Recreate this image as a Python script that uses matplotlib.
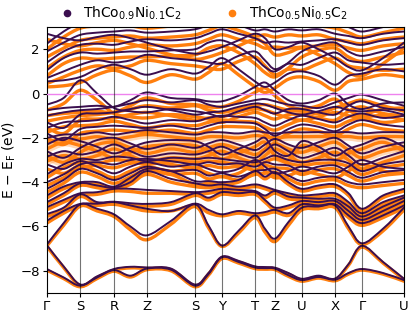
import matplotlib
matplotlib.use("Agg")
import matplotlib.pyplot as plt
from matplotlib.lines import Line2D
from matplotlib.path import Path
from matplotlib.patches import PathPatch

# high-symmetry path
KLABELS = ["Γ", "S", "R", "Z", "S", "Y", "T", "Z", "U", "X", "Γ", "U"]
KNODES = [0.0, 0.469, 0.939, 1.401, 2.073, 2.451, 2.913, 3.193, 3.571, 4.034, 4.412, 5.0]

# band energies (eV) read at each node and segment midpoint (23 points)
# ThCo0.9Ni0.1C2
ni01_deep = [
    [-7.92, -8.3, -8.67, -8.3, -7.97, -8.22, -7.9, -7.95, -8.67, -8.15, -7.39, -7.6, -7.85, -7.88, -7.9, -8.2, -8.42, -8.28, -8.4, -8.1, -7.92, -8.1, -8.42],
    [-6.84, -7.8, -8.62, -8.25, -7.92, -7.82, -7.85, -7.9, -8.62, -8.1, -7.36, -7.55, -7.8, -7.83, -7.86, -8.1, -8.36, -8.22, -8.35, -7.7, -6.87, -7.6, -8.36],
    [-6.82, -5.85, -5.0, -5.2, -5.45, -6.0, -6.4, -5.75, -5.0, -5.95, -6.86, -6.2, -5.5, -6.1, -6.55, -5.8, -5.15, -5.1, -5.05, -6.0, -6.76, -6.1, -5.15],
]
ni01_lower = [
    [-5.74, -5.3, -4.98, -4.97, -4.9, -5.05, -5.2, -5.3, -4.97, -5.25, -5.45, -5.3, -5.4, -5.35, -5.25, -5.4, -5.0, -5.05, -5.0, -5.5, -5.85, -5.5, -5.05],
    [-5.44, -5.15, -4.55, -4.9, -4.88, -4.95, -4.98, -4.9, -4.5, -4.7, -4.45, -4.5, -4.45, -4.8, -5.15, -5.05, -4.85, -4.9, -4.85, -5.3, -5.7, -5.3, -4.85],
    [-5.13, -4.8, -4.5, -4.45, -4.3, -4.3, -4.35, -4.4, -4.45, -4.4, -4.3, -4.35, -4.4, -4.6, -4.4, -4.65, -4.7, -4.75, -4.75, -5.1, -5.55, -5.1, -4.7],
    [-4.9, -4.5, -4.05, -4.15, -4.25, -4.0, -3.5, -3.85, -4.05, -4.15, -4.1, -4.2, -4.1, -4.2, -4.35, -4.5, -4.6, -4.55, -4.5, -4.9, -5.4, -4.9, -4.6],
    [-4.6, -4.2, -4.0, -4.0, -4.2, -3.8, -3.4, -3.5, -3.95, -3.95, -4.0, -3.9, -3.5, -3.75, -3.55, -4.0, -4.3, -4.15, -4.1, -4.5, -5.2, -4.6, -4.3],
]
ni01_valence = [
    [-4.3, -3.9, -3.4, -3.6, -3.9, -3.6, -3.3, -3.5, -3.45, -3.7, -3.6, -3.75, -3.5, -3.45, -3.4, -3.7, -3.95, -3.8, -3.75, -4.0, -4.1, -4.0, -3.9],
    [-4.0, -3.65, -3.2, -3.1, -3.2, -3.0, -2.95, -3.05, -3.2, -3.1, -3.2, -3.15, -3.3, -3.1, -3.2, -3.25, -3.5, -3.3, -3.25, -3.55, -3.8, -3.55, -3.45],
    [-3.65, -3.2, -2.95, -3.0, -2.85, -2.9, -3.05, -2.9, -2.95, -2.9, -2.95, -3.05, -3.1, -2.95, -2.8, -3.0, -3.1, -3.0, -3.0, -3.15, -3.5, -3.2, -3.05],
    [-3.2, -3.4, -3.05, -3.3, -3.6, -3.3, -3.1, -3.3, -3.2, -3.4, -3.55, -3.4, -3.0, -3.3, -3.6, -3.5, -3.3, -3.45, -3.6, -3.3, -3.0, -3.3, -3.4],
    [-2.85, -2.6, -2.75, -2.6, -2.3, -2.6, -2.85, -2.7, -2.75, -2.6, -2.4, -2.7, -2.9, -2.6, -2.3, -2.6, -2.9, -2.7, -2.45, -2.8, -3.2, -2.9, -2.6],
    [-2.6, -2.9, -2.45, -2.1, -2.0, -2.25, -2.5, -2.3, -2.45, -2.25, -2.1, -2.3, -2.55, -2.3, -2.05, -2.3, -2.45, -2.2, -2.0, -2.35, -2.7, -2.4, -2.2],
    [-2.3, -2.0, -2.15, -2.4, -2.7, -2.45, -2.2, -2.1, -2.15, -2.4, -2.75, -2.5, -2.2, -2.0, -2.6, -2.8, -2.15, -2.4, -2.8, -2.5, -2.3, -2.0, -2.4],
]
ni01_near = [
    [-2.0, -1.85, -1.85, -1.75, -1.85, -1.75, -1.65, -1.75, -1.85, -1.75, -1.75, -1.8, -1.7, -1.75, -1.8, -1.75, -1.75, -1.74, -1.75, -1.74, -1.8, -1.74, -1.75],
    [-1.8, -2.1, -1.6, -1.5, -1.45, -1.5, -1.55, -1.45, -1.6, -1.45, -1.3, -1.3, -1.35, -1.6, -1.9, -1.6, -1.4, -1.5, -1.7, -1.4, -1.2, -1.4, -1.5],
    [-1.55, -1.3, -1.25, -1.2, -1.05, -1.2, -1.35, -1.2, -1.25, -1.1, -1.0, -1.05, -1.1, -1.3, -1.45, -1.2, -1.0, -1.15, -1.3, -1.05, -0.9, -1.1, -1.0],
    [-1.3, -1.55, -0.95, -0.9, -0.85, -0.7, -0.6, -0.75, -0.95, -0.85, -0.8, -0.6, -0.45, -0.5, -0.65, -0.85, -0.95, -0.8, -0.6, -0.75, -0.8, -0.75, -0.95],
    [-1.0, -0.85, -0.75, -0.7, -0.6, -0.45, -0.3, -0.4, -0.3, -0.5, -0.6, -0.45, -0.3, -0.25, -0.35, -0.5, -0.55, -0.65, -0.4, -0.2, -0.05, -0.3, -0.55],
    [-0.75, -0.65, -0.6, -0.55, -0.6, -0.3, 0.05, -0.2, -0.25, -0.35, -0.35, -0.1, 0.3, 0.5, 0.15, -0.3, -0.45, -0.3, 0.0, -0.5, -0.7, -0.45, -0.4],
    [-0.5, -0.2, 0.6, 0.0, -0.65, -0.8, -0.85, -0.7, -0.8, -0.9, -1.05, -0.8, -0.6, -0.75, -0.9, -0.7, -0.7, -0.85, -0.95, -0.55, -0.35, -0.65, -0.75],
]
ni01_cond = [
    [0.55, 0.6, 0.75, 1.1, 1.3, 1.1, 0.85, 1.1, 0.9, 1.2, 1.6, 1.1, 0.55, 0.3, 0.5, 0.9, 1.0, 0.8, 0.4, 0.8, 0.9, 1.1, 1.0],
    [0.7, 1.0, 1.3, 1.5, 1.4, 1.5, 1.75, 1.6, 1.5, 1.4, 1.35, 1.7, 1.9, 1.5, 1.1, 1.35, 1.3, 1.6, 1.85, 1.5, 1.4, 1.3, 1.35],
    [1.05, 1.6, 1.85, 1.8, 1.85, 1.9, 1.9, 1.95, 2.0, 2.3, 2.4, 2.1, 1.6, 1.2, 1.0, 1.4, 1.9, 2.2, 2.3, 1.9, 1.7, 1.9, 2.1],
    [1.4, 1.9, 2.2, 2.25, 2.2, 2.35, 2.45, 2.4, 2.5, 2.7, 2.9, 2.7, 2.5, 2.3, 2.35, 2.3, 2.35, 2.4, 2.45, 2.3, 2.2, 2.4, 2.5],
    [1.9, 2.3, 2.65, 2.75, 2.8, 2.85, 2.75, 2.8, 2.9, 3.1, 3.3, 3.1, 2.85, 2.9, 2.8, 2.9, 2.85, 2.9, 2.7, 2.6, 2.5, 2.7, 2.8],
    [2.25, 2.8, 3.2, 3.3, 3.3, 3.3, 3.2, 3.3, 3.4, 3.4, 3.5, 3.4, 3.3, 3.4, 3.3, 3.4, 3.3, 3.3, 3.2, 3.0, 2.8, 3.0, 3.2],
    [2.7, 2.5, 2.4, 2.55, 2.65, 2.5, 2.3, 2.0, 1.8, 1.9, 2.1, 2.4, 2.7, 2.5, 2.0, 2.1, 2.3, 2.0, 1.6, 1.2, 1.05, 1.6, 2.3],
]

# ThCo0.5Ni0.5C2
ni05_deep = [
    [-7.97, -8.35, -8.72, -8.35, -8.02, -8.28, -7.95, -8.0, -8.72, -8.2, -7.45, -7.65, -7.9, -7.93, -7.95, -8.25, -8.47, -8.33, -8.45, -8.15, -7.97, -8.15, -8.47],
    [-6.9, -7.85, -8.67, -8.3, -7.97, -7.87, -7.9, -7.95, -8.67, -8.15, -7.42, -7.6, -7.85, -7.88, -7.91, -8.15, -8.41, -8.27, -8.4, -7.75, -6.93, -7.65, -8.41],
    [-6.88, -5.95, -5.08, -5.3, -5.55, -6.15, -6.6, -5.9, -5.1, -6.05, -6.9, -6.3, -5.6, -6.25, -6.68, -5.95, -5.25, -5.2, -5.15, -6.1, -6.82, -6.2, -5.25],
]
ni05_lower = [
    [-5.85, -5.4, -5.06, -5.05, -5.0, -5.15, -5.3, -5.3, -5.05, -5.38, -5.52, -5.4, -5.5, -5.45, -5.35, -5.5, -5.1, -5.15, -5.1, -5.6, -5.95, -5.6, -5.15],
    [-5.55, -5.25, -4.65, -5.0, -4.98, -5.05, -5.08, -5.0, -4.6, -4.8, -4.55, -4.6, -4.55, -4.9, -5.25, -5.15, -4.95, -5.0, -4.95, -5.4, -5.8, -5.4, -4.95],
    [-5.25, -4.9, -4.6, -4.55, -4.4, -4.42, -4.5, -4.5, -4.55, -4.5, -4.4, -4.45, -4.5, -4.7, -4.5, -4.75, -4.8, -4.85, -4.85, -5.2, -5.65, -5.2, -4.8],
    [-5.0, -4.6, -4.15, -4.25, -4.35, -4.1, -3.65, -4.0, -4.2, -4.25, -4.2, -4.3, -4.2, -4.3, -4.45, -4.6, -4.7, -4.65, -4.6, -5.0, -5.5, -5.0, -4.7],
    [-4.72, -4.3, -4.1, -4.1, -4.3, -3.9, -3.55, -3.65, -4.1, -4.05, -4.1, -4.0, -3.62, -3.85, -3.65, -4.1, -4.4, -4.25, -4.2, -4.6, -5.3, -4.7, -4.4],
]
ni05_valence = [
    [-4.45, -4.05, -3.55, -3.75, -4.05, -3.75, -3.45, -3.65, -3.6, -3.85, -3.75, -3.9, -3.65, -3.6, -3.55, -3.85, -4.1, -3.95, -3.9, -4.15, -4.25, -4.15, -4.05],
    [-4.15, -3.8, -3.35, -3.25, -3.35, -3.15, -3.1, -3.2, -3.35, -3.25, -3.35, -3.3, -3.45, -3.25, -3.35, -3.4, -3.65, -3.45, -3.4, -3.7, -3.95, -3.7, -3.6],
    [-3.8, -3.35, -3.1, -3.15, -3.0, -3.05, -3.2, -3.05, -3.1, -3.05, -3.1, -3.2, -3.25, -3.1, -2.95, -3.15, -3.25, -3.15, -3.15, -3.3, -3.65, -3.35, -3.2],
    [-3.4, -3.6, -3.25, -3.5, -3.8, -3.5, -3.3, -3.5, -3.4, -3.6, -3.75, -3.6, -3.2, -3.5, -3.8, -3.7, -3.5, -3.65, -3.8, -3.5, -3.2, -3.5, -3.6],
    [-3.05, -2.8, -2.95, -2.8, -2.5, -2.8, -3.05, -2.9, -2.95, -2.8, -2.6, -2.9, -3.1, -2.8, -2.5, -2.8, -3.1, -2.9, -2.65, -3.0, -3.4, -3.1, -2.8],
    [-2.8, -3.1, -2.65, -2.3, -2.2, -2.45, -2.7, -2.5, -2.65, -2.45, -2.3, -2.5, -2.75, -2.5, -2.25, -2.5, -2.65, -2.4, -2.2, -2.55, -2.9, -2.6, -2.4],
    [-2.5, -2.2, -2.35, -2.6, -2.9, -2.65, -2.4, -2.3, -2.35, -2.6, -2.95, -2.7, -2.4, -2.2, -2.8, -3.0, -2.35, -2.6, -3.0, -2.7, -2.5, -2.2, -2.6],
]
ni05_near = [
    [-2.2, -2.05, -2.05, -1.95, -2.05, -1.95, -1.85, -1.95, -2.05, -1.95, -1.95, -2.0, -1.9, -1.95, -2.0, -1.95, -1.95, -1.94, -1.95, -1.94, -2.0, -1.94, -1.95],
    [-2.0, -2.3, -1.8, -1.7, -1.65, -1.7, -1.75, -1.65, -1.8, -1.65, -1.5, -1.5, -1.55, -1.8, -2.1, -1.8, -1.6, -1.7, -1.9, -1.6, -1.4, -1.6, -1.7],
    [-1.75, -1.5, -1.45, -1.4, -1.25, -1.4, -1.55, -1.4, -1.45, -1.3, -1.2, -1.25, -1.3, -1.5, -1.65, -1.4, -1.2, -1.35, -1.5, -1.25, -1.1, -1.3, -1.2],
    [-1.55, -1.8, -1.2, -1.15, -1.1, -0.95, -0.85, -1.0, -1.2, -1.1, -1.05, -0.85, -0.7, -0.75, -0.9, -1.1, -1.2, -1.05, -0.85, -1.0, -1.05, -1.0, -1.2],
    [-1.25, -1.1, -1.0, -0.95, -0.85, -0.7, -0.55, -0.65, -0.55, -0.75, -0.85, -0.7, -0.55, -0.5, -0.6, -0.75, -0.8, -0.9, -0.65, -0.45, -0.3, -0.55, -0.8],
    [-1.0, -0.9, -0.85, -0.8, -0.85, -0.55, -0.2, -0.45, -0.5, -0.6, -0.6, -0.35, 0.05, 0.25, -0.1, -0.55, -0.7, -0.55, -0.25, -0.75, -0.95, -0.7, -0.65],
    [-0.75, -0.45, 0.15, -0.3, -0.9, -1.05, -1.1, -0.95, -1.05, -1.15, -1.3, -1.05, -0.85, -1.0, -1.15, -0.95, -0.95, -1.1, -1.2, -0.8, -0.6, -0.9, -1.0],
]
ni05_cond = [
    [0.3, 0.35, 0.5, 0.85, 1.05, 0.8, 0.5, 0.85, 0.65, 0.95, 1.35, 0.85, 0.3, 0.05, 0.25, 0.65, 0.75, 0.55, 0.15, 0.55, 0.65, 0.85, 0.75],
    [0.45, 0.75, 1.05, 1.25, 1.15, 1.25, 1.5, 1.35, 1.25, 1.15, 1.1, 1.45, 1.65, 1.25, 0.85, 1.1, 1.05, 1.35, 1.6, 1.25, 1.15, 1.05, 1.1],
    [0.8, 1.35, 1.6, 1.55, 1.6, 1.65, 1.65, 1.7, 1.75, 2.05, 2.15, 1.85, 1.35, 0.95, 0.75, 1.15, 1.65, 1.95, 2.05, 1.65, 1.45, 1.65, 1.85],
    [1.15, 1.65, 1.95, 2.0, 1.95, 2.1, 2.2, 2.15, 2.25, 2.45, 2.65, 2.45, 2.25, 2.05, 2.1, 2.05, 2.1, 2.15, 2.2, 2.05, 1.95, 2.15, 2.25],
    [1.65, 2.05, 2.4, 2.5, 2.55, 2.6, 2.5, 2.55, 2.65, 2.85, 3.05, 2.85, 2.6, 2.65, 2.55, 2.65, 2.6, 2.65, 2.45, 2.35, 2.25, 2.45, 2.55],
    [2.0, 2.55, 2.95, 3.05, 3.05, 3.05, 2.95, 3.05, 3.15, 3.15, 3.25, 3.15, 3.05, 3.15, 3.05, 3.15, 3.05, 3.05, 2.95, 2.75, 2.55, 2.75, 2.95],
    [2.45, 2.25, 2.15, 2.3, 2.4, 2.25, 2.05, 1.75, 1.55, 1.65, 1.85, 2.15, 2.45, 2.25, 1.75, 1.85, 2.05, 1.75, 1.35, 0.95, 0.8, 1.35, 2.05],
]

PURPLE = "#3b0f4f"
ORANGE = "#ff7f0e"


def kpoints(nodes):
    pts = []
    for a, b in zip(nodes[:-1], nodes[1:]):
        pts += [a, (a + b) / 2]
    pts.append(nodes[-1])
    return pts


def band_path(xs, ys):
    # smooth drawing through every read point (Catmull-Rom as cubic Beziers)
    pts = list(zip(xs, ys))
    verts = [pts[0]]
    codes = [Path.MOVETO]
    n = len(pts)
    for i in range(n - 1):
        p0 = pts[max(i - 1, 0)]
        p1 = pts[i]
        p2 = pts[i + 1]
        p3 = pts[min(i + 2, n - 1)]
        c1 = (p1[0] + (p2[0] - p0[0]) / 6, p1[1] + (p2[1] - p0[1]) / 6)
        c2 = (p2[0] - (p3[0] - p1[0]) / 6, p2[1] - (p3[1] - p1[1]) / 6)
        verts += [c1, c2, p2]
        codes += [Path.CURVE4] * 3
    return Path(verts, codes)


def draw_band(ax, k, band, **style):
    ax.add_patch(PathPatch(band_path(k, band), fill=False, capstyle="round",
                           joinstyle="round", **style))


def main():
    k = kpoints(KNODES)
    ni01 = ni01_deep + ni01_lower + ni01_valence + ni01_near + ni01_cond
    ni05 = ni05_deep + ni05_lower + ni05_valence + ni05_near + ni05_cond

    fig = plt.figure(figsize=(4.11, 3.15), dpi=100)
    ax = fig.add_axes([0.114, 0.070, 0.869, 0.844])

    # fat-band weight for the heavily mixed states
    for band in ni05_valence[4:] + ni05_near[:1]:
        draw_band(ax, k, band, edgecolor=ORANGE, lw=6, alpha=0.3)
    for band in ni05:
        draw_band(ax, k, band, edgecolor=ORANGE, lw=2.4)
    for band in ni01:
        draw_band(ax, k, band, edgecolor=PURPLE, lw=1.4)

    ax.axhline(0, color="violet", lw=1.0, zorder=3)
    for x in KNODES[1:-1]:
        ax.axvline(x, color="k", lw=0.8, alpha=0.55, zorder=4)

    ax.set_xlim(KNODES[0], KNODES[-1])
    ax.set_ylim(-9, 3)
    ax.set_xticks(KNODES, KLABELS)
    ax.set_yticks([-8, -6, -4, -2, 0, 2])
    ax.tick_params(labelsize=9.5, length=3, pad=2)
    ax.set_ylabel(r"E $-$ E$_\mathrm{F}$ (eV)", fontsize=10, labelpad=2)

    handles = [
        Line2D([], [], ls="none", marker="o", ms=4.5, color=PURPLE),
        Line2D([], [], ls="none", marker="o", ms=4.5, color=ORANGE),
    ]
    labels = [r"ThCo$_{0.9}$Ni$_{0.1}$C$_2$", r"ThCo$_{0.5}$Ni$_{0.5}$C$_2$"]
    fig.legend(handles, labels, loc="center", ncol=2, frameon=False,
               bbox_to_anchor=(0.495, 0.958), fontsize=10,
               handlelength=1.0, handletextpad=0.7, columnspacing=3.1)

    fig.savefig("out.png", dpi=100)


if __name__ == "__main__":
    main()
